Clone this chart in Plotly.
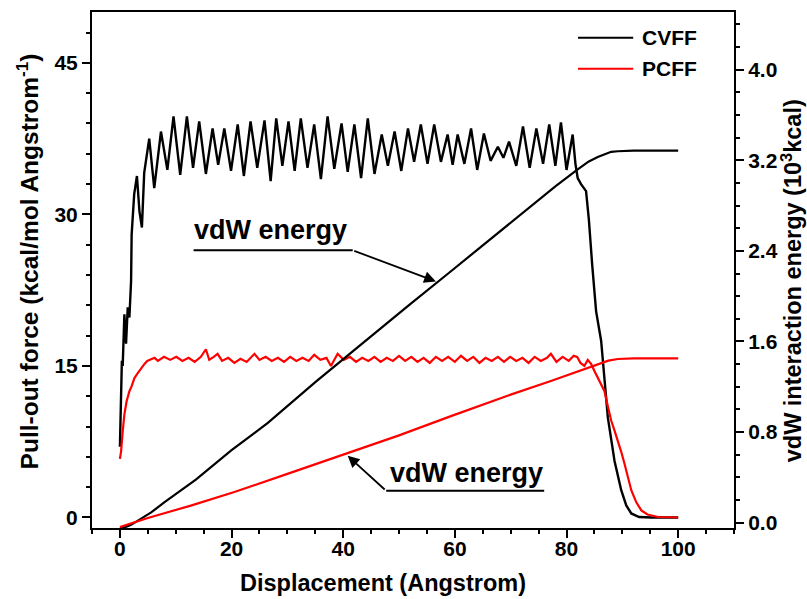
import plotly.graph_objects as go

# ---------------- data ----------------
cvff_force_x = [0.0, 0.15, 0.35, 0.5, 0.65, 0.8, 1.1, 1.4, 1.7, 2.0, 2.1, 2.56, 3.05, 3.5, 3.94, 4.35, 5.25, 6.15, 7.35, 8.5, 9.6, 10.8,
                12.0, 13.1, 14.2, 15.4, 16.6, 17.6, 18.7, 19.9, 21.1, 22.2, 23.4, 24.6, 25.9, 27.0, 28.0, 29.1, 30.2, 31.3, 32.4, 33.6,
                34.8, 36.0, 37.2, 38.4, 39.7, 40.8, 42.0, 43.2, 44.4, 45.6, 46.9, 48.0, 49.2, 50.4, 51.6, 52.7, 53.9, 55.1, 56.3, 57.5,
                58.7, 59.6, 60.5, 61.7, 62.9, 64.0, 65.2, 66.4, 67.7, 68.7, 69.7, 71.0, 72.2, 73.4, 74.6, 75.8, 76.9, 78.0, 79.0, 80.0,
                81.1, 81.6, 82.0, 82.6, 83.5, 84.0, 84.6, 85.3, 86.2, 87.4, 88.6, 89.8, 90.7, 91.6, 93.0, 95.2, 100.0]
cvff_force_y = [7.0, 12.0, 15.5, 15.0, 18.0, 20.1, 17.2, 20.8, 19.8, 23.4, 28.0, 32.0, 33.8, 30.3, 28.7, 34.1, 37.5, 32.6, 38.2, 34.4, 39.7, 33.9,
                39.7, 34.6, 39.2, 34.0, 38.5, 34.9, 38.5, 34.3, 38.9, 33.8, 39.2, 34.6, 39.3, 33.3, 39.5, 34.8, 39.2, 34.3, 39.5, 34.6,
                38.9, 33.5, 39.7, 34.5, 39.0, 34.2, 38.9, 33.6, 39.5, 34.0, 37.9, 34.8, 38.2, 34.3, 38.5, 35.2, 38.9, 35.0, 38.9, 35.2,
                37.9, 34.9, 37.9, 35.0, 38.5, 34.4, 38.0, 35.3, 36.7, 35.6, 37.2, 34.8, 38.7, 34.6, 38.5, 35.0, 38.9, 34.8, 39.1, 34.4,
                37.9, 35.0, 33.6, 33.0, 32.3, 29.5, 25.0, 20.4, 17.5, 9.9, 5.6, 2.7, 1.2, 0.4, 0.05, 0.0, 0.0]

pcff_force_x = [0.0, 0.2, 0.5, 0.8, 1.2, 1.7, 2.1, 2.6, 3.2, 3.8, 4.4, 4.9, 5.6, 6.2,
                6.8, 7.9, 9.0, 10.1, 11.2, 12.3, 13.4, 14.5, 15.4, 16.0, 16.8, 17.5, 18.3, 19.4, 20.5, 21.6, 22.7, 23.5, 24.1,
                25.0, 26.1, 27.2, 28.3, 29.4, 30.5, 31.6, 32.7, 33.8, 34.8, 35.9, 37.0, 37.8, 39.0, 40.1, 41.2, 42.3, 43.4,
                44.5, 45.6, 46.7, 47.8, 48.9, 50.0, 51.1, 52.2, 53.3, 54.4, 55.5, 56.6, 57.7, 58.8, 60.0, 61.1, 62.2, 63.3,
                64.4, 65.5, 66.6, 67.7, 68.8, 69.9, 71.0, 72.1, 73.2, 74.3, 75.4, 76.5, 77.2, 78.2, 79.3, 80.4, 81.3, 81.9,
                82.5, 83.2, 83.8, 84.4, 85.0, 85.6, 86.2, 86.8, 87.4, 88.0, 88.6, 89.2, 89.8, 90.4, 91.0, 91.6, 92.5, 93.4,
                94.5, 96.4, 100.0]
pcff_force_y = [5.8, 6.5, 8.5, 10.2, 11.5, 12.5, 13.0, 13.8, 14.3, 14.8, 15.2, 15.5, 15.7, 15.8,
                15.5, 15.9, 15.6, 15.9, 15.5, 15.8, 15.4, 15.9, 16.65, 15.6, 15.9, 16.2, 15.5, 15.8, 15.3, 15.7, 15.4, 15.9, 16.2,
                15.6, 15.9, 15.5, 15.8, 15.4, 15.9, 15.5, 15.8, 15.5, 16.1, 15.6, 15.8, 15.0, 16.2, 15.6, 15.9, 15.4, 15.8,
                15.5, 15.9, 15.4, 15.8, 15.5, 16.0, 15.5, 15.9, 15.4, 15.8, 15.3, 15.9, 15.5, 15.9, 15.4, 16.0, 15.5, 15.9,
                15.3, 15.8, 15.5, 15.9, 15.4, 15.9, 15.5, 15.8, 15.3, 15.9, 15.5, 15.8, 16.2, 15.4, 15.9, 15.5, 16.0, 15.9,
                15.3, 15.0, 15.6, 15.2, 14.5, 13.85, 13.2, 12.5, 11.0, 9.6, 8.6, 7.6, 6.5, 5.3, 4.0, 2.7, 1.5, 0.7,
                0.3, 0.05, 0.0]

cvff_energy_x = [0, 1, 2, 3, 4, 5.6, 8, 10, 13.6, 20, 26.5, 35, 43.8, 52, 59.3, 70, 78, 82, 84, 85.6, 87, 88, 89.2, 92, 100]
cvff_energy_y = [-0.05, -0.04, -0.02, 0.01, 0.04, 0.09, 0.18, 0.25, 0.38, 0.64, 0.88, 1.24, 1.60, 1.93, 2.22, 2.65, 2.97,
                 3.12, 3.19, 3.23, 3.26, 3.275, 3.28, 3.285, 3.285]

pcff_energy_x = [0, 5, 12.7, 20.5, 30, 40.2, 50, 59.3, 70, 77.2, 80, 83.2, 85.5, 87.5, 89.2, 92, 100]
pcff_energy_y = [-0.04, 0.04, 0.15, 0.27, 0.43, 0.60, 0.77, 0.94, 1.13, 1.25, 1.30, 1.36, 1.40, 1.43, 1.445, 1.45, 1.45]

series_names = ["CVFF", "PCFF"]
series_colors = ["#000000", "#ff0000"]

x_ticks = [0, 20, 40, 60, 80, 100]
y_ticks = [0, 15, 30, 45]
y2_ticks = [0.0, 0.8, 1.6, 2.4, 3.2, 4.0]

FONT = "Liberation Sans, Arial, Helvetica, sans-serif"

fig = go.Figure()
fig.add_trace(go.Scatter(x=cvff_force_x, y=cvff_force_y, mode="lines", name=series_names[0],
                         line=dict(color=series_colors[0], width=2.4), yaxis="y", showlegend=False))
fig.add_trace(go.Scatter(x=pcff_force_x, y=pcff_force_y, mode="lines", name=series_names[1],
                         line=dict(color=series_colors[1], width=2.2), yaxis="y", showlegend=False))
fig.add_trace(go.Scatter(x=cvff_energy_x, y=cvff_energy_y, mode="lines", showlegend=False,
                         line=dict(color=series_colors[0], width=2.2), yaxis="y2"))
fig.add_trace(go.Scatter(x=pcff_energy_x, y=pcff_energy_y, mode="lines", showlegend=False,
                         line=dict(color=series_colors[1], width=2.2), yaxis="y2"))

tickfont = dict(family=FONT, size=21, color="black", weight="bold")

fig.update_layout(
    width=807, height=599,
    margin=dict(l=92, r=73, t=10, b=71),
    paper_bgcolor="white", plot_bgcolor="white",
    showlegend=False,
    xaxis=dict(range=[-5, 110], tickvals=x_ticks, ticks="outside", ticklen=8, tickwidth=2,
               minor=dict(dtick=5, tick0=0, ticks="outside", ticklen=4, tickwidth=2, tickcolor="black"),
               showline=True, linewidth=2, linecolor="black", mirror=True, showgrid=False, zeroline=False,
               tickfont=tickfont, tickcolor="black", ticklabelstandoff=-7),
    yaxis=dict(range=[-1.04, 50.03], tickvals=y_ticks, ticks="outside", ticklen=8, tickwidth=2,
               minor=dict(dtick=3, tick0=0, ticks="outside", ticklen=4, tickwidth=2, tickcolor="black"),
               showline=True, linewidth=2, linecolor="black", showgrid=False, zeroline=False,
               tickfont=tickfont, tickcolor="black"),
    yaxis2=dict(range=[-0.048, 4.51], tickvals=y2_ticks, tickformat=".1f", overlaying="y", side="right",
                ticks="outside", ticklen=8, tickwidth=2,
                minor=dict(dtick=0.2, tick0=0, ticks="outside", ticklen=4, tickwidth=2, tickcolor="black"),
                showline=True, linewidth=2, linecolor="black", showgrid=False, zeroline=False,
                tickfont=tickfont, tickcolor="black"),
)

# axis titles (placed as annotations to match the reference offsets)
def bold(size):
    return dict(family=FONT, size=size, color="black", weight="bold")

fig.add_annotation(text="Displacement (Angstrom)", xref="paper", yref="paper", x=0.453, y=-0.106,
                   xanchor="center", yanchor="middle", showarrow=False, font=bold(23.5))
fig.add_annotation(text="Pull-out force (kcal/mol Angstrom<sup>-1</sup>)", xref="paper", yref="paper",
                   x=-0.101, y=0.517, xanchor="center", yanchor="middle", textangle=-90, showarrow=False,
                   font=bold(24.5))
fig.add_annotation(text="vdW interaction energy (10<sup>3</sup>kcal)", xref="paper", yref="paper",
                   x=1.0895, y=0.479, xanchor="center", yanchor="middle", textangle=-90, showarrow=False,
                   font=bold(23.5))

# legend (line samples + names)
legend_rows = [0.950, 0.890]
for name, color, ly in zip(series_names, series_colors, legend_rows):
    fig.add_shape(type="line", xref="paper", yref="paper", x0=0.757, x1=0.843, y0=ly, y1=ly,
                  line=dict(color=color, width=2))
    fig.add_annotation(text=name, xref="paper", yref="paper", x=0.854, y=ly, xanchor="left",
                       yanchor="middle", showarrow=False, font=bold(21))

# annotations: "vdW energy" labels with underline and arrow
labels = [
    dict(tx=27.0, ty=2.58, ux0=13.2, ux1=41.7, uy=2.405, hx=56.6, hy=2.13),
    dict(tx=62.0, ty=0.44, ux0=47.7, ux1=76.0, uy=0.28, hx=40.8, hy=0.59),
]
for i, lb in enumerate(labels):
    fig.add_annotation(x=lb["tx"], y=lb["ty"], xref="x", yref="y2", text="vdW energy", showarrow=False,
                       font=bold(27), xanchor="center", yanchor="middle")
    fig.add_shape(type="line", xref="x", yref="y2", x0=lb["ux0"], x1=lb["ux1"], y0=lb["uy"], y1=lb["uy"],
                  line=dict(color="black", width=2))
    tail_x = lb["ux1"] if i == 0 else lb["ux0"]
    fig.add_annotation(x=lb["hx"], y=lb["hy"], xref="x", yref="y2", ax=tail_x, ay=lb["uy"],
                       axref="x", ayref="y2", text="", showarrow=True, arrowhead=2, arrowsize=1.3,
                       arrowwidth=1.8, arrowcolor="black")

fig.write_html("out.html")
